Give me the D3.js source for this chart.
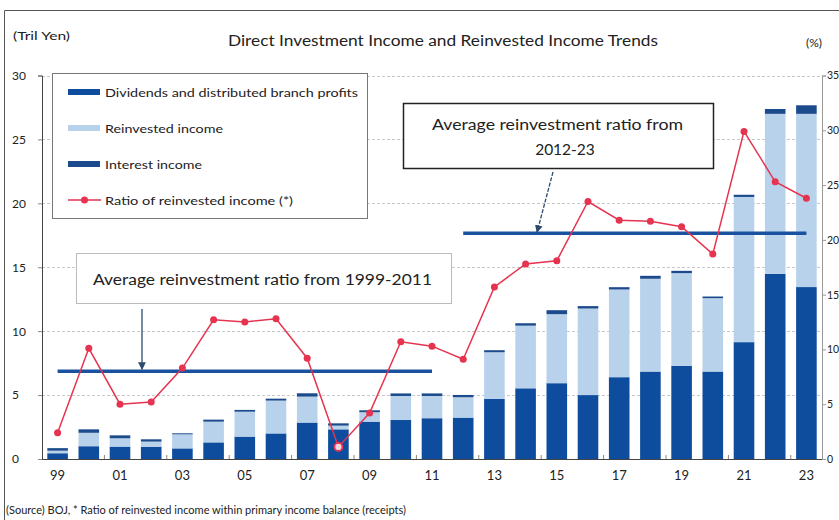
<!DOCTYPE html>
<html>
<head>
<meta charset="utf-8">
<script src="https://cdn.jsdelivr.net/npm/d3@7"></script>
<style>
  html, body { margin: 0; padding: 0; background: #fff; }
  svg { display: block; }
  text { font-family: Lato, "Open Sans", sans-serif; fill: #222; }
</style>
</head>
<body>
<svg id="chart" width="839" height="520"></svg>
<script>
// Fiscal years (two-digit labels)
const years = ["99","00","01","02","03","04","05","06","07","08","09","10","11",
               "12","13","14","15","16","17","18","19","20","21","22","23"];

// Trillion yen
const dividends  = [0.45,1.00,0.97,0.96,0.83,1.30,1.75,2.00,2.85,2.32,2.92,3.05,3.19,
                    3.24,4.70,5.53,5.93,5.00,6.40,6.84,7.28,6.84,9.14,14.49,13.45];
const reinvested = [0.20,1.05,0.65,0.40,1.10,1.62,1.95,2.57,2.03,0.29,0.74,1.88,1.74,
                    1.59,3.65,4.90,5.40,6.77,6.86,7.26,7.26,5.74,11.36,12.51,13.55];
const interest   = [0.20,0.27,0.23,0.18,0.08,0.16,0.14,0.15,0.26,0.18,0.15,0.20,0.20,
                    0.18,0.16,0.19,0.31,0.19,0.18,0.23,0.18,0.13,0.17,0.38,0.67];

// Ratio of reinvested income within primary income balance (%)
const ratio = [2.4,10.1,5.0,5.2,8.3,12.7,12.5,12.8,9.2,1.1,4.2,10.7,10.3,
               9.1,15.7,17.8,18.1,23.5,21.8,21.7,21.2,18.7,29.9,25.3,23.8];

// Period averages of the ratio (%)
const avgPeriods = [
  { from: "99", to: "11", value: 8.0 },
  { from: "12", to: "23", value: 20.6 }
];

const leftTicks  = [0,5,10,15,20,25,30];
const rightTicks = [0,5,10,15,20,25,30,35];

const C_DIV = "#0e4d9e", C_REI = "#b9d2eb", C_INT = "#1b4b8c",
      C_RED = "#e6334f", C_AVG = "#1a52a0";

const svg = d3.select("#chart");

const L = 42, R = 822, T = 75.5, B = 459;

const x = d3.scaleBand().domain(years).range([L, R])
  .paddingInner(0.34).paddingOuter(0.17);
const yL = d3.scaleLinear().domain([0, 30]).range([B, T]);
const yR = d3.scaleLinear().domain([0, 35]).range([B, T]);

// text helper with an optional fixed drawn width
function label(sel, opts) {
  const t = sel.append("text")
    .attr("x", opts.x).attr("y", opts.y)
    .attr("font-size", opts.size)
    .attr("fill", opts.fill || "#333")
    .attr("text-anchor", opts.anchor || "start")
    .text(opts.text);
  if (opts.width) t.attr("textLength", opts.width).attr("lengthAdjust", "spacingAndGlyphs");
  return t;
}

// outer frame
svg.append("path")
  .attr("d", `M4.5,520 V10.5 H839`)
  .attr("fill", "none").attr("stroke", "#555").attr("stroke-width", 1);

// headings
label(svg, { x: 13, y: 40, size: 11.5, text: "(Tril Yen)", width: 57 });
label(svg, { x: 443, y: 46, size: 15.5, anchor: "middle", fill: "#222",
  text: "Direct Investment Income and Reinvested Income Trends", width: 430 });
label(svg, { x: 806, y: 47, size: 12, fill: "#444", text: "(%)" });

// gridlines
svg.append("g").selectAll("line").data(leftTicks.filter(d => d > 0)).join("line")
  .attr("x1", L).attr("x2", R)
  .attr("y1", d => Math.round(yL(d)) + 0.5).attr("y2", d => Math.round(yL(d)) + 0.5)
  .attr("stroke", "#c8c8c8").attr("stroke-dasharray", "3,2");

// stacked bars
const stackData = years.map((y, i) => ({ year: y, div: dividends[i], rei: reinvested[i], int: interest[i] }));
const series = d3.stack().keys(["div", "rei", "int"])(stackData);
const colors = { div: C_DIV, rei: C_REI, int: C_INT };
svg.append("g").selectAll("g").data(series).join("g")
  .attr("fill", d => colors[d.key])
  .selectAll("rect").data(d => d).join("rect")
  .attr("x", d => x(d.data.year))
  .attr("width", x.bandwidth())
  .attr("y", d => yL(d[1]))
  .attr("height", d => yL(d[0]) - yL(d[1]));

// axes
const axL = svg.append("g").attr("transform", `translate(${L},0)`)
  .call(d3.axisLeft(yL).tickValues(leftTicks).tickSize(4).tickFormat(d3.format("d")));
axL.select(".domain").attr("stroke", "#444");
axL.selectAll(".tick line").attr("stroke", "#888");
axL.selectAll(".tick text").attr("x", -30).attr("text-anchor", "start")
  .attr("font-size", 12).attr("font-family", "Lato").attr("fill", "#333");

const axR = svg.append("g").attr("transform", `translate(${R},0)`)
  .call(d3.axisRight(yR).tickValues(rightTicks).tickSize(4).tickFormat(d3.format("d")));
axR.select(".domain").attr("stroke", "#999");
axR.selectAll(".tick line").attr("stroke", "#999");
axR.selectAll(".tick text").attr("x", 5)
  .attr("font-size", 10.5).attr("font-family", "Lato").attr("fill", "#333");

const axB = svg.append("g").attr("transform", `translate(0,${B})`)
  .call(d3.axisBottom(x).tickValues(years.filter((d, i) => i % 2 === 0)).tickSize(0).tickPadding(12));
axB.select(".domain").attr("stroke", "#444").attr("d", `M${L},0.5H${R}`);
axB.selectAll(".tick text").attr("font-size", 13).attr("font-family", "Lato").attr("fill", "#333");

// small category separators on the baseline
svg.append("g").selectAll("line")
  .data(years.filter((d, i) => i % 2 === 0 && i > 0)).join("line")
  .attr("x1", d => x(d) - x.step() * x.paddingInner() / 2)
  .attr("x2", d => x(d) - x.step() * x.paddingInner() / 2)
  .attr("y1", B - 4).attr("y2", B)
  .attr("stroke", "#888");

// period average lines
svg.append("g").selectAll("line").data(avgPeriods).join("line")
  .attr("x1", d => x(d.from) + x.bandwidth() / 2)
  .attr("x2", d => x(d.to) + x.bandwidth() / 2)
  .attr("y1", d => yR(d.value)).attr("y2", d => yR(d.value))
  .attr("stroke", C_AVG).attr("stroke-width", 3.5);

// ratio line
const line = d3.line().x((d, i) => x(years[i]) + x.bandwidth() / 2).y(d => yR(d));
svg.append("path").datum(ratio).attr("d", line)
  .attr("fill", "none").attr("stroke", C_RED).attr("stroke-width", 1.5);
svg.append("g").selectAll("circle").data(ratio).join("circle")
  .attr("cx", (d, i) => x(years[i]) + x.bandwidth() / 2)
  .attr("cy", d => yR(d))
  .attr("r", (d, i) => years[i] === "08" ? 4 : 3.5)
  .attr("fill", (d, i) => years[i] === "08" ? "#f6d6de" : C_RED)
  .attr("stroke", C_RED).attr("stroke-width", (d, i) => years[i] === "08" ? 1.8 : 0);

// legend
const lg = svg.append("g");
lg.append("rect").attr("x", 52.5).attr("y", 73.5).attr("width", 315).attr("height", 145)
  .attr("fill", "#fff").attr("stroke", "#777");
const legendItems = [
  { label: "Dividends and distributed branch profits", color: C_DIV, type: "bar", w: 253 },
  { label: "Reinvested income", color: C_REI, type: "bar", w: 118 },
  { label: "Interest income", color: C_INT, type: "bar", w: 97 },
  { label: "Ratio of reinvested income (*)", color: C_RED, type: "line", w: 188 }
];
legendItems.forEach((it, i) => {
  const cy = 92 + i * 36;
  if (it.type === "bar") {
    lg.append("rect").attr("x", 68).attr("y", cy - 3).attr("width", 32).attr("height", 6).attr("fill", it.color);
  } else {
    lg.append("line").attr("x1", 68).attr("x2", 101).attr("y1", cy).attr("y2", cy)
      .attr("stroke", it.color).attr("stroke-width", 1.5);
    lg.append("circle").attr("cx", 84.5).attr("cy", cy).attr("r", 3.5).attr("fill", it.color);
  }
  label(lg, { x: 105, y: cy + 4.5, size: 12.3, text: it.label, width: it.w });
});

// annotation: 1999-2011 average
const an = svg.append("g");
an.append("rect").attr("x", 76.5).attr("y", 253.5).attr("width", 375).attr("height", 50)
  .attr("fill", "#fff").attr("stroke", "#bbb");
label(an, { x: 262.5, y: 285, size: 15.5, anchor: "middle",
  text: "Average reinvestment ratio from 1999-2011", width: 339 });

// annotation: 2012-23 average
an.append("rect").attr("x", 403.5).attr("y", 103.5).attr("width", 310).attr("height", 65)
  .attr("fill", "#fff").attr("stroke", "#222").attr("stroke-width", 1.5);
label(an, { x: 557.5, y: 130, size: 15.5, anchor: "middle",
  text: "Average reinvestment ratio from", width: 251 });
label(an, { x: 565, y: 155, size: 15.5, anchor: "middle", text: "2012-23" });

// arrows
const defs = svg.append("defs");
defs.append("marker").attr("id", "arrow").attr("viewBox", "0 0 10 10")
  .attr("refX", 9).attr("refY", 5).attr("markerWidth", 6).attr("markerHeight", 6)
  .attr("orient", "auto-start-reverse")
  .append("path").attr("d", "M0,0 L10,5 L0,10 z").attr("fill", "#2b4a6e");
an.append("line").attr("x1", 142).attr("y1", 309).attr("x2", 142).attr("y2", yR(avgPeriods[0].value) - 2)
  .attr("stroke", "#2b4a6e").attr("stroke-width", 1.3).attr("marker-end", "url(#arrow)");
an.append("line").attr("x1", 553).attr("y1", 172).attr("x2", 537).attr("y2", yR(avgPeriods[1].value) - 1)
  .attr("stroke", "#2b4a6e").attr("stroke-width", 1.3).attr("stroke-dasharray", "4,1.5").attr("marker-end", "url(#arrow)");

// source note
label(svg, { x: 6, y: 514, size: 10.5,
  text: "(Source) BOJ, * Ratio of reinvested income within primary income balance (receipts)", width: 400 });
</script>
</body>
</html>
